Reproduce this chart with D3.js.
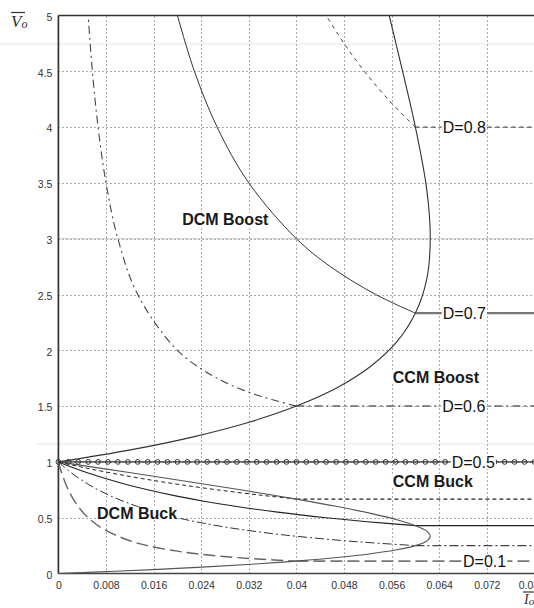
<!DOCTYPE html>
<html lang="en">
  <head>
    <meta charset="utf-8" />
    <title>Vo vs Io</title>
    <script src="https://cdn.jsdelivr.net/npm/d3@7"></script>
    <style>
      body { margin: 0; padding: 0; background: #fff; }
      svg { display: block; font-family: "Liberation Sans", Arial, sans-serif; }
      .grid line { stroke: #aaa; stroke-dasharray: 2,2; shape-rendering: crispEdges; }
      .grid path { display: none; }
      .tick text { fill: #333; font-size: 10.5px; }
      .lbl { fill: #111; font-size: 16px; }
      .region { fill: #1a1a1a; font-size: 16px; font-weight: bold; }
    </style>
  </head>
  <body>
    <div id="chart"></div>
    <script>
      // ticks
      var xTicks = [0, 0.008, 0.016, 0.024, 0.032, 0.04, 0.048, 0.056, 0.064, 0.072, 0.08];
      var xTickLabels = ["0", "0.008", "0.016", "0.024", "0.032", "0.04", "0.048", "0.056", "0.064", "0.072", "0.08"];
      var yTicks = [0, 0.5, 1, 1.5, 2, 2.5, 3, 3.5, 4, 4.5, 5];
      var yTickLabels = ["0", "0.5", "1", "1.5", "2", "2.5", "3", "3.5", "4", "4.5", "5"];

      // duty cycles and CCM output levels (horizontal lines), with the Io where CCM begins
      var duty = [0.1, 0.2, 0.3, 0.4, 0.5, 0.6, 0.7, 0.8];
      var ccmVo = [0.1111, 0.25, 0.4286, 0.6667, 1, 1.5, 2.3333, 4];
      var ccmStartIo = [0.04, 0.06, 0.06, 0.04, 0, 0.04, 0.06, 0.06];

      // CCM/DCM boundary, [Io, Vo]
      var boundaryLow = [[0,0],[0.0096,0.0204],[0.0225,0.0526],[0.0336,0.087],[0.04,0.1111],[0.0469,0.1429],
        [0.0525,0.1765],[0.0569,0.2121],[0.06,0.25],[0.0619,0.2903],[0.0625,0.3333],[0.0619,0.3793],
        [0.06,0.4286],[0.0569,0.4815],[0.0525,0.5385],[0.0469,0.6],[0.04,0.6667],[0.0319,0.7391],
        [0.0225,0.8182],[0.0119,0.9048],[0,1]];
      var boundaryHigh = [[0,1],[0.0119,1.1053],[0.0225,1.2222],[0.0319,1.3529],[0.04,1.5],[0.0469,1.6667],
        [0.0525,1.8571],[0.0569,2.0769],[0.06,2.3333],[0.0619,2.6364],[0.0625,3],[0.0619,3.4444],
        [0.06,4],[0.0576,4.5556],[0.0556,5]];

      // DCM buck curves, [Io, Vo]
      var dcmD01 = [[0,1],[0.00026,0.95],[0.00056,0.9],[0.00125,0.8],[0.00214,0.7],[0.00333,0.6],[0.005,0.5],
        [0.0075,0.4],[0.01167,0.3],[0.015,0.25],[0.02,0.2],[0.02357,0.175],[0.02833,0.15],[0.03346,0.13],[0.04,0.1111]];
      var dcmD02 = [[0,1],[0.00105,0.95],[0.00222,0.9],[0.005,0.8],[0.00857,0.7],[0.01333,0.6],[0.02,0.5],
        [0.02444,0.45],[0.03,0.4],[0.03714,0.35],[0.04667,0.3],[0.05273,0.275],[0.06,0.25]];
      var dcmD03 = [[0,1],[0.00237,0.95],[0.005,0.9],[0.01125,0.8],[0.01929,0.7],[0.02423,0.65],[0.03,0.6],
        [0.03682,0.55],[0.045,0.5],[0.0519,0.4643],[0.06,0.4286]];
      var dcmD04 = [[0,1],[0.00421,0.95],[0.00889,0.9],[0.01412,0.85],[0.02,0.8],[0.02667,0.75],
        [0.03429,0.7],[0.04,0.6667]];
      // DCM boost curves, [Io, Vo]
      var dcmD06 = [[0.04,1.5],[0.03333,1.6],[0.02667,1.75],[0.02,2],[0.01333,2.5],[0.01,3],[0.008,3.5],
        [0.00667,4],[0.00571,4.5],[0.005,5]];
      var dcmD07 = [[0.06,2.3333],[0.05333,2.5],[0.04571,2.75],[0.04,3],[0.032,3.5],[0.02667,4],[0.02286,4.5],[0.02,5]];
      var dcmD08 = [[0.06,4],[0.05538,4.25],[0.05143,4.5],[0.048,4.75],[0.045,5]];

      // markers on the D=0.5 line
      var d05MarkerIo = [0,0.00167,0.00333,0.005,0.00667,0.00833,0.01,0.01167,0.01333,0.015,0.01667,0.01833,
        0.02,0.02167,0.02333,0.025,0.02667,0.02833,0.03,0.03167,0.03333,0.035,0.03667,0.03833,0.04,
        0.04167,0.04333,0.045,0.04667,0.04833,0.05,0.05167,0.05333,0.055,0.05667,0.05833,0.06,0.06167,
        0.06333,0.065,0.06667,0.06833,0.07,0.07167,0.07333,0.075,0.07667,0.07833,0.08];

      var width = 534, height = 608;
      var svg = d3.select("#chart").append("svg")
        .attr("width", width).attr("height", height);
      svg.append("rect").attr("width", width).attr("height", height).attr("fill", "#fff");

      var x = d3.scaleLinear().domain([0, 0.08]).range([58.4, 534.4]);
      var y = d3.scaleLinear().domain([0, 5]).range([573.5, 15.5]);

      // faint scan lines in the original
      svg.append("line").attr("x1", 0).attr("x2", width).attr("y1", 44).attr("y2", 44)
        .attr("stroke", "#e6e6e6");
      svg.append("line").attr("x1", 37).attr("x2", width).attr("y1", 444).attr("y2", 444)
        .attr("stroke", "#e6e6e6");

      // grid
      svg.append("g").attr("class", "grid")
        .attr("transform", "translate(0," + y(0) + ")")
        .call(d3.axisBottom(x).tickValues(xTicks.slice(1)).tickSize(-(y(0) - y(5))).tickFormat(""));
      svg.append("g").attr("class", "grid")
        .attr("transform", "translate(" + x(0) + ",0)")
        .call(d3.axisLeft(y).tickValues(yTicks.slice(1, -1)).tickSize(-(width - x(0))).tickFormat(""));
      svg.append("line").attr("x1", x(0)).attr("x2", width).attr("y1", y(3)).attr("y2", y(3))
        .attr("stroke", "#c8c8c8").attr("stroke-width", 1);

      // axes
      var xAxis = svg.append("g")
        .attr("transform", "translate(0," + y(0) + ")")
        .call(d3.axisBottom(x).tickValues(xTicks).tickSize(0).tickPadding(8)
          .tickFormat(function(d, i){ return xTickLabels[i]; }));
      xAxis.select(".domain").remove();
      // last label sits on the window edge, as in the original
      xAxis.selectAll(".tick text").filter(function(d){ return d === 0.08; }).attr("dx", -6);
      var yAxis = svg.append("g")
        .attr("transform", "translate(" + x(0) + ",0)")
        .call(d3.axisLeft(y).tickValues(yTicks).tickSize(0).tickPadding(6)
          .tickFormat(function(d, i){ return yTickLabels[i]; }));
      yAxis.select(".domain").remove();
      yAxis.selectAll("text").attr("dy", "0.45em");

      svg.append("line").attr("x1", x(0)).attr("x2", width).attr("y1", y(5)).attr("y2", y(5))
        .attr("stroke", "#333").attr("stroke-width", 1.4);
      svg.append("line").attr("x1", x(0)).attr("x2", width).attr("y1", y(0)).attr("y2", y(0))
        .attr("stroke", "#444").attr("stroke-width", 1.6);
      svg.append("line").attr("x1", x(0)).attr("x2", x(0)).attr("y1", y(5)).attr("y2", y(0))
        .attr("stroke", "#333").attr("stroke-width", 1.7);

      // line styles per duty cycle
      var styles = {
        0.1: {stroke: "#666", w: 1.4, hw: 1.8, hs: "#777", dash: "12,5"},
        0.2: {stroke: "#333", w: 1, hw: 1.2, hs: "#444", dash: "9,3,2,3"},
        0.3: {stroke: "#222", w: 1.1, hw: 1.3, hs: "#222", dash: null},
        0.4: {stroke: "#222", w: 1, hw: 1.1, hs: "#222", dash: "4,3"},
        0.5: {stroke: "#333", w: 1, hw: 1.1, hs: "#333", dash: null},
        0.6: {stroke: "#444", w: 1.1, hw: 1.5, hs: "#666", dash: "8,4,2,4"},
        0.7: {stroke: "#333", w: 1, hw: 2.2, hs: "#777", dash: null},
        0.8: {stroke: "#444", w: 1, hw: 1.1, hs: "#555", dash: "4,4"}
      };
      var dcmCurves = {0.1: dcmD01, 0.2: dcmD02, 0.3: dcmD03, 0.4: dcmD04, 0.6: dcmD06, 0.7: dcmD07, 0.8: dcmD08};

      var line = d3.line()
        .x(function(d){ return x(d[0]); })
        .y(function(d){ return y(d[1]); })
        .curve(d3.curveCatmullRom);

      var plot = svg.append("g");

      // CCM horizontal lines
      duty.forEach(function(D, i){
        var s = styles[D];
        plot.append("line")
          .attr("x1", x(ccmStartIo[i])).attr("x2", x(0.081))
          .attr("y1", y(ccmVo[i])).attr("y2", y(ccmVo[i]))
          .attr("stroke", s.hs).attr("stroke-width", s.hw)
          .attr("stroke-dasharray", s.dash);
      });

      // DCM curves
      Object.keys(dcmCurves).forEach(function(k){
        var s = styles[k];
        plot.append("path")
          .attr("d", line(dcmCurves[k]))
          .attr("fill", "none")
          .attr("stroke", s.stroke).attr("stroke-width", s.w)
          .attr("stroke-dasharray", s.dash);
      });

      // boundary
      [boundaryLow, boundaryHigh].forEach(function(b, i){
        plot.append("path")
          .attr("d", line(b))
          .attr("fill", "none")
          .attr("stroke", i == 0 ? "#555" : "#333")
          .attr("stroke-width", 1.1);
      });

      // D=0.5 markers
      plot.selectAll("circle.m")
        .data(d05MarkerIo)
        .enter().append("circle")
        .attr("class", "m")
        .attr("cx", function(d){ return x(d); })
        .attr("cy", y(1))
        .attr("r", 2.4)
        .attr("fill", "none")
        .attr("stroke", "#333")
        .attr("stroke-width", 1);

      // labels
      var dLabels = [
        {text: "D=0.8", io: 0.0646, vo: 4},
        {text: "D=0.7", io: 0.0646, vo: 2.3333},
        {text: "D=0.6", io: 0.0645, vo: 1.5},
        {text: "D=0.5", io: 0.0661, vo: 1},
        {text: "D=0.1", io: 0.068, vo: 0.1111}
      ];
      var regionLabels = [
        {text: "DCM Boost", io: 0.0208, vo: 3.123},
        {text: "CCM Boost", io: 0.0562, vo: 1.707},
        {text: "CCM Buck", io: 0.0562, vo: 0.775},
        {text: "DCM Buck", io: 0.0065, vo: 0.488}
      ];

      function addLabel(d, cls, dy){
        var g = svg.append("g");
        var bg = g.append("rect").attr("fill", "#fff");
        var t = g.append("text")
          .attr("class", cls)
          .attr("x", x(d.io))
          .attr("y", y(d.vo) + dy)
          .text(d.text);
        var bb = t.node().getBBox();
        bg.attr("x", bb.x - 1).attr("y", bb.y + 2)
          .attr("width", bb.width + 2).attr("height", bb.height - 4);
      }
      dLabels.forEach(function(d){ addLabel(d, "lbl", 6); });
      regionLabels.forEach(function(d){ addLabel(d, "region", 0); });

      // axis titles
      var vt = svg.append("text")
        .attr("x", 11).attr("y", 27)
        .attr("font-family", "'Liberation Serif', 'Times New Roman', serif")
        .attr("font-style", "italic").attr("font-size", 17).attr("fill", "#333");
      vt.append("tspan").text("V");
      vt.append("tspan").attr("font-size", 12).attr("dy", 1).text("o");
      svg.append("line").attr("x1", 11).attr("x2", 25).attr("y1", 12.5).attr("y2", 12.5)
        .attr("stroke", "#333").attr("stroke-width", 1.2);

      var it = svg.append("text")
        .attr("x", 524).attr("y", 604)
        .attr("font-family", "'Liberation Serif', 'Times New Roman', serif")
        .attr("font-style", "italic").attr("font-size", 14).attr("fill", "#333");
      it.append("tspan").text("I");
      it.append("tspan").attr("font-size", 11).attr("dy", 1).text("o");
      svg.append("line").attr("x1", 523).attr("x2", 534).attr("y1", 592).attr("y2", 592)
        .attr("stroke", "#333").attr("stroke-width", 1.2);
    </script>
  </body>
</html>
